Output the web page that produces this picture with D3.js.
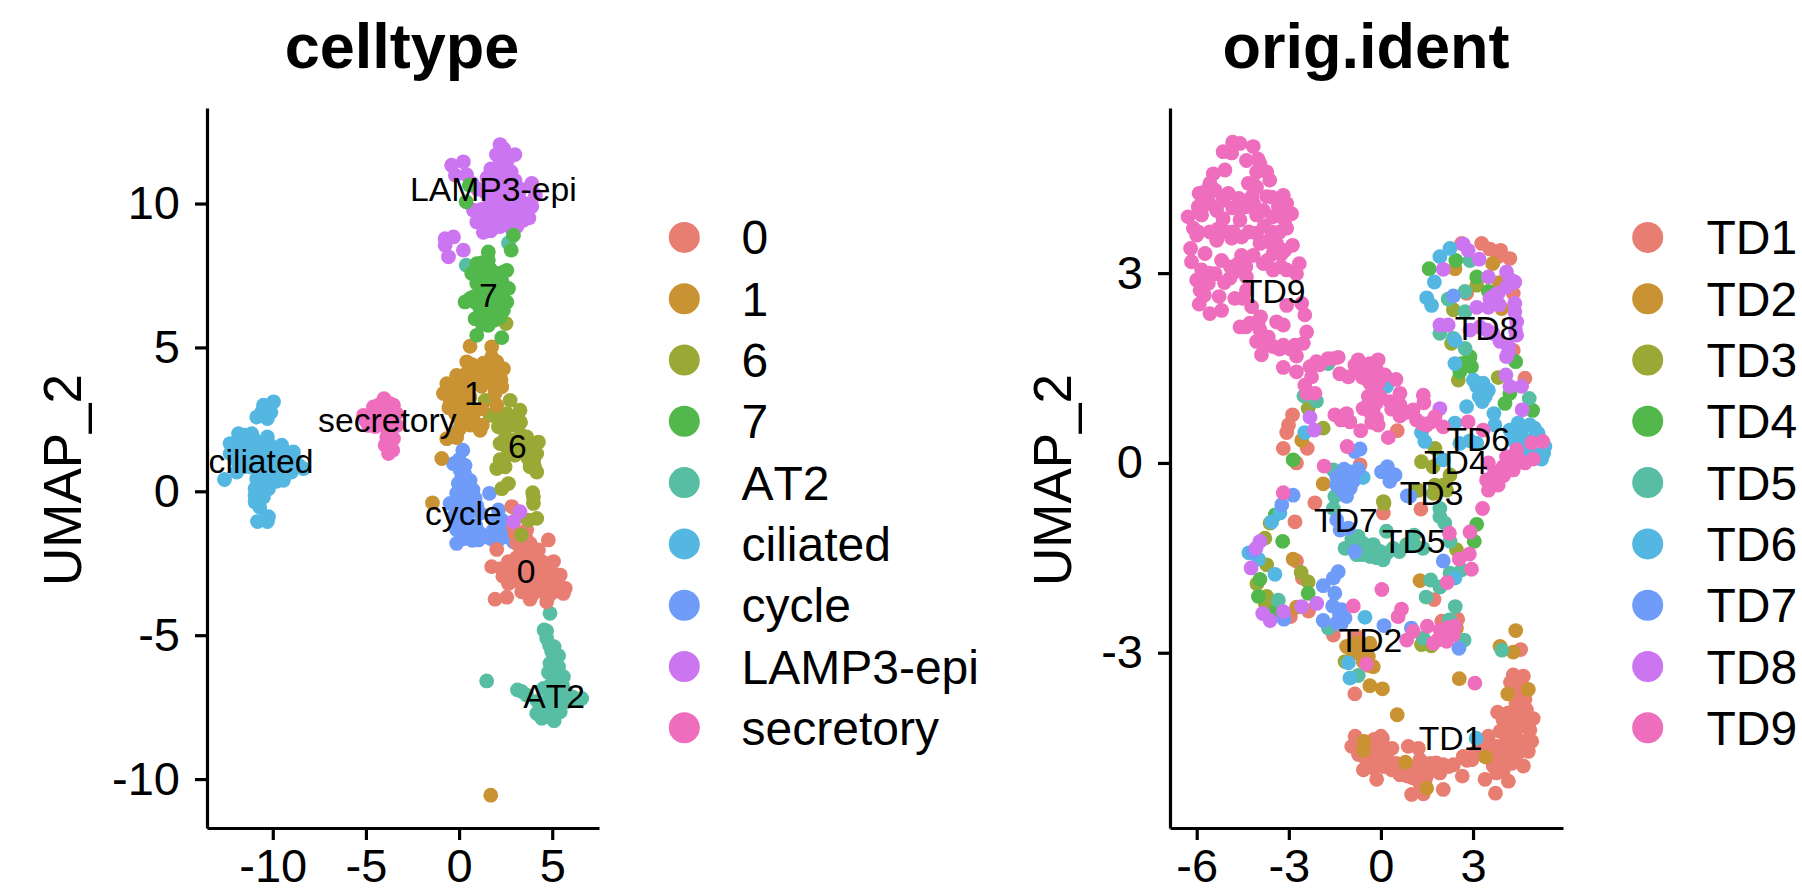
<!DOCTYPE html>
<html><head><meta charset="utf-8">
<script src="https://cdn.jsdelivr.net/npm/d3@7"></script>
<style>html,body{margin:0;padding:0;background:#fff}svg{display:block}text{font-family:"Liberation Sans",Arial,sans-serif;fill:#000;font-kerning:none}</style>
</head><body><svg id="c" width="1802" height="892"></svg>
<script>
// ---------- celltype panel ----------
const cellCategories = ["0","1","6","7","AT2","ciliated","cycle","LAMP3-epi","secretory"];
const palette = ["#E87D72","#C99333","#9AA936","#53B84B","#57BEA4","#54B7E2","#6E9CF8","#CC75F1","#EF6DBD"];
const cellDrawOrder = ["AT2","ciliated","secretory","cycle","0","6","1","LAMP3-epi","7"];
const cell0 = [[2.83,-0.53],[2.92,-1.23],[3.63,-1.34],[4.79,-1.69],[2.02,-2.02],[3.09,-1.81],[3.81,-1.81],[3.45,-2.1],[4.26,-2.04],[2.65,-2.44],[3.54,-2.44],[4.44,-2.44],[5.07,-2.44],[1.75,-2.62],[2.29,-2.68],[2.92,-2.74],[3.99,-2.85],[4.7,-2.85],[5.43,-2.91],[2.65,-3.2],[3.45,-3.14],[4.17,-3.2],[5.07,-3.2],[5.7,-3.37],[3.36,-3.49],[3.99,-3.55],[4.7,-3.49],[5.6,-3.55],[1.93,-3.75],[2.56,-3.68],[3.81,-3.75],[4.7,-3.84],[3.4,-1.55],[3.6,-1.65],[3.0,-1.5],[3.3,-1.9],[3.8,-2.2],[3.1,-2.3],[4.1,-2.4],[4.7,-2.55],[3.25,-2.55],[2.6,-2.8],[3.5,-2.85],[4.35,-2.75],[5.0,-2.85],[3.0,-3.1],[3.75,-3.15],[4.5,-3.15],[5.3,-3.2],[3.7,-3.45],[4.35,-3.45],[5.05,-3.5],[3.3,-2.9],[2.35,-2.95],[4.85,-3.6]];
const cell1 = [[0.59,5.04],[1.75,5.02],[0.41,4.5],[1.75,4.67],[2.02,4.5],[2.38,4.26],[-0.13,4.03],[0.77,4.2],[1.4,4.32],[2.2,3.97],[-0.66,3.74],[0.05,3.74],[0.77,3.74],[1.57,3.92],[2.29,3.63],[-0.84,3.4],[-0.13,3.4],[0.59,3.28],[1.93,3.4],[-0.48,3.05],[0.23,2.93],[1.22,2.87],[2.02,2.99],[0.05,2.47],[0.77,2.47],[-0.04,2.12],[-0.66,1.83],[-0.13,1.87],[1.13,2.12],[-0.93,1.14],[-1.43,-0.4],[1.7,-10.56],[0.4,4.1],[1.1,4.1],[1.75,4.2],[2.1,4.2],[1.9,3.9],[-0.4,3.6],[0.4,3.6],[1.9,3.65],[1.2,3.65],[-0.45,3.4],[0.2,3.2],[-0.1,3.0],[-0.55,2.9],[0.4,2.7],[0.6,2.3],[2.25,3.85],[1.3,4.45],[0.7,4.4],[-0.2,2.7],[0.05,2.2],[-0.35,1.9],[1.25,2.3],[0.9,2.8]];
const cell6 = [[2.52,5.83],[2.74,3.16],[1.4,3.16],[3.27,2.82],[2.56,2.7],[1.66,2.64],[2.11,2.24],[3.0,2.29],[2.2,1.66],[2.92,1.77],[3.63,1.89],[4.26,1.71],[3.63,1.43],[4.17,1.31],[2.74,1.31],[2.02,0.79],[2.47,0.85],[3.81,0.85],[4.17,0.67],[2.29,0.09],[2.65,0.27],[3.99,-0.2],[3.99,-0.42],[4.17,-0.94],[3.72,-1.0],[3.18,-0.88],[3.34,-1.52],[2.3,2.6],[2.9,2.5],[3.3,2.4],[2.5,2.3],[2.5,1.9],[3.3,1.5],[2.6,1.5],[3.0,1.25],[3.5,1.65],[3.9,1.5],[4.0,1.05],[3.7,1.15],[2.4,1.1],[2.2,1.1],[4.05,0.85],[3.95,-0.05],[2.1,2.5],[3.35,1.95]];
const cell7 = [[0.38,10.06],[0.55,10.64],[2.92,8.9],[2.8,8.38],[1.57,8.32],[1.57,8.03],[0.95,7.91],[0.68,7.57],[1.2,7.68],[2.56,7.68],[2.0,7.57],[0.95,7.22],[1.66,7.28],[2.65,7.05],[0.77,6.76],[1.48,6.76],[2.2,6.76],[0.32,6.58],[2.56,6.58],[1.13,6.35],[1.84,6.41],[2.38,6.29],[0.86,6.0],[1.57,6.06],[2.2,6.06],[1.57,5.77],[0.95,5.42],[2.29,5.34],[1.25,7.95],[1.9,7.3],[1.3,7.3],[2.3,7.3],[1.15,7.0],[1.8,7.0],[2.4,6.95],[0.9,6.55],[1.5,6.4],[2.1,6.5],[1.3,6.05],[1.9,5.95],[1.1,6.75],[1.85,6.7],[0.6,6.7],[1.4,7.6],[1.7,7.7],[2.3,7.6],[1.25,5.8]];
const cellAT2 = [[2.65,8.63],[0.38,7.86],[4.88,-4.24],[4.56,-4.82],[4.7,-5.11],[4.97,-5.57],[5.34,-5.71],[4.88,-5.98],[5.34,-6.1],[5.07,-6.44],[5.6,-6.44],[1.48,-6.59],[3.13,-6.9],[3.63,-7.08],[4.53,-6.85],[5.25,-6.9],[5.78,-7.02],[6.58,-7.2],[4.35,-7.37],[5.07,-7.31],[5.78,-7.31],[4.17,-7.72],[4.7,-7.72],[5.43,-7.66],[5.1,-7.97],[4.44,-7.89],[4.7,-4.85],[4.85,-5.35],[5.1,-5.4],[5.05,-5.8],[5.1,-6.1],[4.8,-6.3],[5.35,-6.35],[5.3,-6.6],[4.9,-6.75],[5.55,-6.75],[3.35,-6.95],[4.9,-7.1],[5.5,-7.1],[6.1,-7.15],[6.3,-7.25],[4.7,-7.35],[5.4,-7.4],[4.5,-7.6],[5.05,-7.65],[5.2,-7.75],[5.9,-7.2],[4.2,-7.3]];
const cellCiliated = [[-9.96,3.11],[-10.5,2.99],[-10.3,2.87],[-10.86,2.58],[-10.29,2.53],[-11.84,2.0],[-11.13,2.0],[-10.29,1.89],[-12.29,1.66],[-11.57,1.66],[-10.86,1.66],[-10.14,1.6],[-9.52,1.6],[-8.89,1.37],[-12.29,1.31],[-11.57,1.25],[-10.86,1.25],[-9.96,1.19],[-9.25,1.14],[-8.35,0.79],[-11.93,0.67],[-11.2,0.85],[-10.5,0.85],[-9.79,0.79],[-9,0.67],[-12.59,0.41],[-10.86,0.44],[-10.14,0.5],[-9.43,0.38],[-10.95,0.09],[-10.23,0.09],[-10.95,-0.37],[-10.6,-0.15],[-10.82,-1.05],[-10.29,-1.05],[-10.23,-0.88],[-11.5,1.95],[-11.0,1.8],[-11.9,1.45],[-11.2,1.45],[-10.5,1.45],[-9.8,1.4],[-9.3,1.35],[-11.9,1.05],[-11.2,1.05],[-10.5,1.05],[-9.6,0.95],[-8.9,0.95],[-11.55,0.85],[-10.85,0.85],[-10.15,0.75],[-9.45,0.75],[-10.5,0.45],[-9.8,0.35],[-10.6,0.1],[-10.5,-0.2],[-10.95,-0.15],[-10.7,-0.55],[-10.4,-0.95],[-10.1,2.75],[-10.6,2.75],[-8.6,0.9]];
const cellCycle = [[0.2,1.43],[-0.3,0.96],[0.32,0.9],[0.14,0.5],[-0.04,0.27],[0.59,0.38],[-0.13,-0.07],[0.5,0.22],[-0.48,-0.42],[0.23,-0.3],[0.86,-0.24],[-0.3,-0.88],[0.41,-0.88],[1.13,-0.76],[-0.13,-1.34],[0.59,-1.46],[1.13,-1.46],[-0.13,-1.81],[1.04,-1.69],[1.84,-1.34],[2.29,-1.0],[2.11,-0.65],[2.47,-1.58],[2.92,-1.75],[1.63,-0.07],[0.0,1.1],[0.05,0.75],[0.3,0.6],[0.35,0.15],[0.0,0.05],[0.75,0.05],[-0.1,-0.4],[0.55,-0.6],[0.95,-0.5],[0.0,-0.7],[0.05,-1.1],[0.4,-1.25],[0.9,-1.2],[0.25,-1.65],[0.3,-1.3],[1.9,-1.0],[2.3,-1.3],[1.7,-1.65],[2.1,-1.7],[0.7,-1.7],[0.65,-0.25]];
const cellLamp = [[2.2,12.05],[2.4,11.9],[2.0,11.7],[2.6,11.5],[3.0,11.7],[2.2,11.4],[1.7,11.2],[2.3,11.0],[2.8,11.1],[1.5,10.9],[1.9,10.7],[2.5,10.6],[3.0,10.8],[1.4,10.4],[2.0,10.3],[2.6,10.2],[3.2,10.2],[3.9,10.7],[4.1,10.3],[3.7,10.0],[1.2,9.8],[1.8,9.8],[2.4,9.7],[3.0,9.7],[3.6,9.6],[0.77,9.77],[1.3,9.3],[1.9,9.2],[2.5,9.3],[3.1,9.2],[3.45,9.42],[0.95,9.36],[1.3,9.0],[1.7,9.05],[-0.4,11.33],[0.23,11.45],[-0.2,10.98],[0.4,11.0],[0.7,10.7],[1.0,10.5],[-0.75,8.78],[-0.3,8.84],[-0.75,8.55],[-0.57,8.15],[0.23,8.38],[3.27,-0.71],[2.92,-1.05],[2.4,11.7],[2.1,11.15],[1.8,11.0],[2.55,11.2],[1.7,10.5],[2.2,10.55],[2.8,10.5],[3.3,10.5],[1.65,10.1],[2.3,10.0],[2.9,10.0],[3.4,9.9],[1.5,9.6],[2.1,9.5],[2.7,9.5],[3.3,9.5],[1.0,9.6],[1.6,9.4],[2.2,9.2],[2.8,9.15],[3.9,9.9],[1.55,9.15],[3.75,9.5]];
const cellSecretory = [[-4.03,3.22],[-4.6,2.93],[-3.52,2.99],[-5.13,2.64],[-4.42,2.58],[-3.52,2.58],[-4.87,2.29],[-4.06,2.29],[-3.35,2.29],[-3.88,1.89],[-3.52,1.83],[-3.97,1.6],[-3.56,1.43],[-3.79,1.31],[-4.3,3.0],[-4.0,2.9],[-3.7,3.05],[-4.8,2.6],[-4.1,2.6],[-3.8,2.6],[-4.5,2.25],[-3.7,2.2],[-3.7,1.6],[-3.75,2.0],[-5.0,2.45],[-3.35,2.7]];
const cellSeries = {"0":cell0,"1":cell1,"6":cell6,"7":cell7,"AT2":cellAT2,"ciliated":cellCiliated,"cycle":cellCycle,"LAMP3-epi":cellLamp,"secretory":cellSecretory};
const cellLabels = [["7",1.57,6.81],["1",0.77,3.40],["6",3.13,1.59],["LAMP3-epi",1.84,10.52],["secretory",-3.85,2.47],["ciliated",-10.63,1.05],["cycle",0.23,-0.76],["0",3.6,-2.76],["AT2",5.1,-7.1]];
const cellXTicks = [-10,-5,0,5];
const cellYTicks = [-10,-5,0,5,10];

// ---------- orig.ident panel ----------
const identCategories = ["TD1","TD2","TD3","TD4","TD5","TD6","TD7","TD8","TD9"];
const td1 = [[3.28,3.47],[3.55,3.38],[3.9,3.36],[4.2,3.23],[3.82,3.26],[2.63,3.47],[4.31,2.68],[4.69,1.34],[4.31,1.78],[0.53,0.51],[-2.88,0.76],[-3.01,0.6],[-3.07,0.48],[-3.18,0.23],[-2.4,0.23],[-2.75,0],[-0.68,-0.03],[2.79,2.68],[-2.15,-0.63],[-2.8,-0.93],[0.08,-0.79],[1.3,-0.73],[-2.75,-1.55],[-2.56,-1.82],[1.73,-2.16],[-2.36,-2.34],[-2.95,-2.43],[-1.55,-2.72],[-0.79,-2.74],[1.98,-2.5],[2.5,-2.47],[4.55,-2.95],[-0.85,-3.65],[4.64,-3.37],[4.31,-3.35],[4.22,-3.47],[4.58,-3.53],[4.69,-3.74],[4.47,-3.69],[4.74,-3.9],[4.47,-3.9],[3.8,-3.94],[4.15,-3.95],[4.96,-4.04],[3.98,-4.06],[4.36,-4.08],[4.85,-4.22],[4.58,-4.16],[4.2,-4.24],[3.88,-4.24],[3.5,-4.32],[4.91,-4.4],[4.47,-4.37],[4.09,-4.37],[4.8,-4.56],[4.47,-4.58],[4.15,-4.53],[3.77,-4.48],[3.82,-4.64],[3.45,-4.53],[3.07,-4.58],[4.09,-4.74],[4.64,-4.79],[3.66,-4.79],[3.98,-4.87],[3.77,-4.9],[3.39,-5.0],[4.15,-5.03],[3.73,-5.22],[2.65,-4.95],[2.68,-4.64],[2.36,-4.77],[2.96,-4.69],[2.03,-4.77],[1.8,-4.74],[1.92,-4.9],[1.54,-4.9],[1.27,-4.69],[0.89,-4.48],[1.22,-4.51],[1.27,-4.85],[1.05,-4.98],[0.62,-4.93],[1.27,-5.06],[0.36,-4.51],[0,-4.32],[-0.22,-4.37],[-0.84,-4.32],[-0.95,-4.48],[-0.73,-4.61],[-0.46,-4.72],[-0.14,-4.58],[0.19,-4.66],[-0.25,-4.82],[0.35,-4.85],[-0.14,-5.0],[-0.57,-4.85],[0.02,-4.48],[1,-5.24],[1.38,-5.23],[2.03,-5.16],[4.3,-3.55],[4.65,-4.0],[4.7,-4.4],[4.3,-4.2],[4.4,-3.8],[4.25,-4.75],[3.6,-4.6],[3.3,-4.6],[3.95,-4.55],[4.3,-4.65],[3.2,-4.45],[2.8,-4.7],[2.2,-4.8],[1.6,-4.75],[1.45,-5.0],[1.1,-4.8],[0.85,-4.95],[-0.35,-4.55],[-0.5,-4.45],[-0.05,-4.75],[0.1,-4.8],[-0.6,-4.6],[0.5,-4.75],[-0.2,-4.55],[0.05,-4.35]];
const td2 = [[3.64,3.15],[2.41,3.07],[3.85,2.85],[3.93,2.44],[-2.58,0.36],[-1.88,-0.33],[-2.86,-1.52],[1.27,-1.86],[-2.75,-2.28],[-1.12,-2.9],[-0.79,-2.85],[-0.36,-2.85],[-0.79,-3.0],[-0.41,-3.06],[-0.25,-3.22],[-0.58,-3.14],[-0.36,-3.52],[0.05,-3.57],[0.53,-3.98],[2.55,-3.41],[4.39,-2.65],[3.88,-2.9],[4.31,-2.99],[4.13,-3.65],[4.8,-3.58],[-0.55,-4.4],[-0.57,-4.54],[0.8,-4.73],[1.49,-5.14],[3.41,-4.65],[2.46,-2.61],[-0.55,-2.95],[-0.95,-2.95],[-0.4,-3.2]];
const td3 = [[2.36,2.42],[3.12,2.81],[2.3,1.89],[2.52,1.31],[3.82,1.35],[-2.37,0.86],[-1.88,0.55],[1.32,0.02],[1.76,0.23],[1.7,-0.06],[2.25,-0.19],[1.76,-0.35],[2.14,-0.43],[1.16,-0.43],[0.08,-0.61],[1.22,-0.43],[1.71,-0.48],[2.03,-0.35],[0.1,-0.64],[-3.78,-1.19],[-3.61,-0.95],[-2.6,-1.73],[-2.37,-1.88],[-3.72,-1.61],[-4.04,-1.91],[-3.72,-2.11],[-3.77,-2.22],[2.46,-1.37],[1.32,-2.87],[1.64,-2.89],[-1.17,-3.14]];
const td4 = [[2.44,3.2],[1.57,3.07],[3.12,2.94],[3.5,2.71],[2.9,1.68],[4.39,1.6],[2.63,1.57],[2.95,1.52],[2.57,1.44],[4.2,1.1],[4.04,0.94],[4.94,0.83],[-2.86,0.05],[-3.2,-1.24],[3.12,-0.97],[3.04,-1.24],[-3.44,-0.82],[-3.94,-1.84],[-3.99,-2.11],[-2.37,-2.06],[-3.44,-2.35]];
const td5 = [[2.9,3.2],[2.74,2.71],[2.19,2.59],[2.74,2.39],[1.92,2.05],[2.36,1.97],[2.74,1.81],[4.83,1.02],[-2.51,1.06],[-2.1,0.98],[-1.72,1.57],[-1.55,-0.11],[-1.55,-0.72],[1.92,-0.72],[1.92,-0.85],[2.08,-0.95],[2.25,-1.24],[0.18,-1.08],[1.08,-1.14],[-0.74,-1.16],[-1.17,-1.35],[-0.58,-1.27],[-0.25,-1.29],[-0.03,-1.4],[-0.79,-1.45],[-0.36,-1.48],[0.07,-1.53],[0.4,-1.35],[0.84,-1.29],[1.37,-1.35],[-0.47,-1.37],[2.25,-1.74],[2.63,-1.69],[1.62,-1.85],[1.92,-1.96],[1.47,-2.12],[-3.34,-2.17],[2.42,-2.27],[2.23,-2.48],[1.38,-2.77],[2.71,-2.8],[-1.71,-2.61],[-0.74,-3.36],[3.94,-2.96],[-1.5,-0.53],[-0.9,-1.3],[-0.15,-1.5],[0.2,-1.42],[-0.6,-1.45],[0.6,-1.4],[1.1,-1.3],[-0.95,-1.2]];
const td6 = [[2.25,3.39],[1.92,3.26],[1.74,2.86],[1.49,2.61],[1.65,2.49],[2.41,1.94],[2.41,1.57],[3.01,1.31],[3.33,1.26],[3.5,1.15],[3.12,1.21],[3.3,0.97],[2.79,0.89],[3.68,0.78],[3.71,0.6],[2.41,0.63],[1.32,0.48],[1.43,0.34],[2.57,0.31],[3.12,0.31],[4.47,0.63],[4.85,0.6],[4.2,0.52],[5.12,0.47],[4.31,0.36],[4.74,0.36],[5.34,0.26],[5.23,0.06],[2.03,0.05],[-2.48,0.48],[-0.58,-0.23],[0.18,1.21],[-3.56,-0.93],[-3.29,-0.79],[-3.45,-1.76],[-4.3,-1.42],[-3.99,-1.52],[-0.52,-2.44],[-1.06,-3.16],[-1.01,-3.4],[2.41,-1.82],[3.1,-4.35],[4.5,0.2],[4.95,0.15],[5.0,0.4],[4.4,0.45],[4.8,0.15],[5.3,0.15],[3.2,1.05],[3.4,1.05],[2.9,0.35],[4.6,0.55],[5.0,0.55]];
const td7 = [[2.36,2.64],[-0.68,0.22],[-0.85,0.18],[-1.44,-0.22],[-1.01,-0.14],[-0.74,-0.1],[-1.17,-0.27],[-0.9,-0.29],[-1.44,-0.35],[0.21,-0.06],[0.02,-0.14],[0.46,-0.19],[0.29,-0.29],[0.94,-0.53],[-2.86,-0.51],[-1.12,-0.53],[-1.28,-0.35],[-3.23,-0.66],[-1.44,-0.9],[-1.33,-1.06],[-1.06,-1.03],[-0.85,-1.4],[2.03,-1.55],[-1.39,-1.72],[-1.55,-1.82],[-1.88,-1.94],[-1.5,-2.06],[-1.57,-2.26],[-1.28,-2.32],[-1.17,-2.45],[-1.88,-2.49],[-1.44,-2.53],[0.1,-2.57],[0.99,-2.61],[2.54,-2.93],[-3.16,-2.47],[-4.16,-1.4],[0.86,-0.52],[-1.2,-0.1],[-1.25,-0.45],[-1.0,-0.4],[-1.35,-2.4],[-1.3,-2.55]];
const td8 = [[2.68,3.46],[2.84,3.36],[3.2,3.22],[2.03,3.06],[3.5,2.94],[4.09,3.02],[4.36,2.86],[4.09,2.78],[3.82,2.68],[3.55,2.6],[4.36,2.52],[3.5,2.46],[3.12,2.46],[4.36,2.39],[1.92,2.18],[2.19,2.18],[4.42,2.23],[2.9,2.1],[3.22,2.15],[4.42,2.02],[3.88,1.92],[4.15,1.84],[4.09,1.68],[4.07,1.39],[4.2,1.21],[4.58,1.21],[1.92,0.86],[4.6,0.84],[-2.31,0.72],[-2.17,0.52],[-4.07,-1.35],[-3.94,-1.24],[-4.23,-1.66],[-2.58,-2.27],[-2.09,-2.22],[-3.18,-2.35],[-3.85,-2.38],[-3.61,-2.49],[3.7,2.65],[4.2,2.9],[3.85,2.5],[4.38,2.1],[4.15,1.75],[3.65,2.05],[3.45,2.1]];
const td9 = [[-4.83,5.07],[-4.59,5.05],[-5.14,4.92],[-4.86,4.9],[-4.16,5.0],[-4.38,4.78],[-3.94,4.73],[-4.05,4.6],[-3.72,4.6],[-5.46,4.57],[-5.08,4.63],[-3.62,4.47],[-5.57,4.42],[-4.32,4.42],[-4.05,4.36],[-5.92,4.26],[-5.4,4.31],[-4.97,4.26],[-3.18,4.23],[-5.66,4.15],[-4.63,4.18],[-4.2,4.21],[-3.72,4.21],[-3.07,4.1],[-5.95,4.05],[-5.35,3.99],[-4.83,4.03],[-4.38,4.05],[-3.83,3.99],[-3.34,4.05],[-2.91,3.94],[-6.28,3.89],[-5.84,3.92],[-5.14,3.86],[-4.59,3.84],[-4.05,3.92],[-3.51,3.89],[-3.13,3.84],[-6.11,3.71],[-5.57,3.65],[-5.03,3.65],[-4.54,3.57],[-4.05,3.63],[-3.56,3.65],[-3.07,3.71],[-6.0,3.6],[-5.35,3.52],[-4.86,3.55],[-3.94,3.47],[-3.4,3.47],[-2.88,3.44],[-6.2,3.39],[-5.73,3.31],[-3.51,3.31],[-3.13,3.36],[-6.17,3.18],[-5.19,3.2],[-4.54,3.28],[-4.16,3.28],[-4.65,3.15],[-3.83,3.15],[-3.51,3.05],[-3.07,3.05],[-2.66,3.15],[-5.84,3.05],[-5.4,2.99],[-4.76,3.02],[-6.0,2.89],[-5.62,2.84],[-4.92,2.92],[-4.38,2.94],[-2.75,2.99],[-5.89,2.73],[-5.27,2.63],[-4.76,2.6],[-4.38,2.73],[-5.92,2.51],[-3.07,2.49],[-2.58,2.52],[-5.57,2.36],[-5.19,2.41],[-4.21,2.47],[-2.48,2.34],[-3.92,2.31],[-4.59,2.15],[-4.27,2.21],[-3.4,2.23],[-3.18,2.18],[-3.94,2.1],[-2.42,2.07],[-4.05,1.92],[-3.67,1.99],[-3.18,1.86],[-2.53,1.89],[-2.8,1.86],[-3.89,1.71],[-3.51,1.84],[-2.75,1.69],[-3.18,1.51],[-2.75,1.44],[-2.31,1.52],[-2.1,1.6],[-1.72,1.65],[-1.39,1.67],[-2.26,1.36],[-2.48,1.23],[-2.42,1.1],[-0.74,1.63],[-0.09,1.63],[-0.36,1.57],[-1.34,1.41],[-1.06,1.36],[-0.79,1.47],[-0.47,1.42],[-0.14,1.47],[0.13,1.39],[-0.36,1.26],[-0.09,1.26],[0.49,1.32],[0.62,1.1],[1.38,1.07],[-0.41,1.05],[-0.03,1.05],[0.29,0.97],[-0.58,0.86],[-0.25,0.86],[0.62,0.92],[-1.5,0.76],[-1.12,0.78],[-0.14,0.71],[0.62,0.74],[1.05,0.84],[-1.01,0.65],[-0.3,0.64],[-0.09,0.6],[1.16,0.68],[1.49,0.6],[1.76,0.73],[2.03,0.57],[-0.66,0.51],[0.24,0.4],[2.84,0.65],[3.33,0.52],[-1.1,0.26],[4.91,0.32],[5.27,0.34],[4.42,0.21],[4.09,0.1],[4.96,0.06],[4.69,0],[3.5,0],[3.98,-0.06],[4.31,-0.11],[3.88,-0.22],[3.44,-0.27],[3.82,-0.35],[3.5,-0.43],[-1.85,-0.05],[-3.18,-0.47],[3.31,-0.72],[2.23,-1.11],[2.9,-1.09],[2.55,-1.52],[2.88,-1.44],[2.95,-1.68],[2.16,-1.89],[0.03,-2.0],[-0.9,-2.26],[0.67,-2.31],[0.56,-2.43],[1.51,-2.58],[1.05,-2.66],[0.84,-2.8],[1.93,-2.64],[2.41,-2.58],[2.36,-2.72],[2.14,-2.82],[1.71,-2.85],[-0.47,-3.18],[3.06,-3.48],[-5.6,4.1],[-5.15,4.15],[-4.6,4.0],[-4.15,4.1],[-3.55,4.2],[-3.25,3.9],[-5.95,3.65],[-5.3,3.7],[-4.8,3.65],[-4.3,3.65],[-3.8,3.75],[-3.3,3.65],[-3.7,3.5],[-3.25,3.3],[-3.7,3.2],[-3.25,3.1],[-4.4,3.1],[-4.9,3.1],[-5.6,3.0],[-5.1,2.85],[-5.75,2.65],[-4.5,2.6],[-4.0,2.2],[-3.8,1.9],[-3.3,1.8],[-2.95,1.8],[-4.4,2.15],[-4.0,4.8],[-4.15,4.4],[-5.5,4.3],[-5.7,4.3],[-0.55,1.5],[-0.3,1.4],[-0.6,1.35],[-0.2,1.15],[-0.45,0.9],[-0.15,0.95],[-0.3,0.75],[-1.3,0.68],[0.35,0.85],[0.85,0.8],[1.35,0.62],[1.65,0.65],[-2.15,1.1],[-2.0,1.55],[-1.55,1.65],[4.2,-0.1],[4.0,-0.2],[3.7,-0.15],[4.5,0.05],[3.6,-0.3],[1.4,0.95],[-0.85,1.55],[2.0,-2.75],[2.2,-2.6],[1.85,-2.8]];
const identSeries = {TD1:td1,TD2:td2,TD3:td3,TD4:td4,TD5:td5,TD6:td6,TD7:td7,TD8:td8,TD9:td9};
const identLabels = [["TD9",-3.49,2.71],["TD8",3.44,2.14],["TD6",3.17,0.37],["TD4",2.44,0.02],["TD3",1.65,-0.48],["TD7",-1.14,-0.9],["TD5",1.07,-1.24],["TD2",-0.34,-2.8],["TD1",2.27,-4.35]];
const identXTicks = [-6,-3,0,3];
const identYTicks = [-3,0,3];

const svg = d3.select("#c");
const ANN = 33.7, TICK = 47, LEG = 48, TITLE = 63, AXT = 53;

function panel(o){
  const g = svg.append("g");
  const x = d3.scaleLinear().domain(o.xd).range([o.l,o.r]);
  const y = d3.scaleLinear().domain(o.yd).range([828,108]);
  const color = d3.scaleOrdinal(o.cats,palette);
  o.order.forEach(k=>{
    g.append("g").selectAll("circle").data(o.series[k]).join("circle")
      .attr("cx",d=>x(d[0])).attr("cy",d=>y(d[1])).attr("r",7.4).attr("fill",color(k));
  });
  g.append("g").selectAll("text").data(o.labels).join("text")
    .attr("x",d=>x(d[1])).attr("y",d=>y(d[2])).attr("dy","0.355em")
    .attr("text-anchor","middle").attr("font-size",ANN).text(d=>d[0]);
  const ax = g.append("g").attr("transform","translate(0,828)")
    .call(d3.axisBottom(x).tickValues(o.xt).tickFormat(d3.format("d")).tickSize(12).tickSizeOuter(0).tickPadding(9));
  const ay = g.append("g").attr("transform",`translate(${o.l},0)`)
    .call(d3.axisLeft(y).tickValues(o.yt).tickFormat(d3.format("d")).tickSize(12).tickSizeOuter(0).tickPadding(15));
  [ax,ay].forEach(a=>{
    a.select(".domain").attr("stroke","#000").attr("stroke-width",3.2);
    a.selectAll(".tick line").attr("stroke","#000").attr("stroke-width",3.2);
    a.selectAll("text").attr("font-size",TICK).attr("font-family","Liberation Sans").attr("fill","#000")
      .text(function(){return this.textContent.replace("\u2212","-");});
    a.attr("font-family",null);
  });
  svg.append("text").attr("x",o.tx).attr("y",68).attr("text-anchor","middle")
    .attr("font-size",TITLE).attr("font-weight","bold").text(o.title);
  svg.append("text").attr("transform",`translate(${o.axx},${o.axy}) rotate(-90)`)
    .attr("text-anchor","middle").attr("font-size",AXT).text("UMAP_2");
  const leg = svg.append("g").selectAll("g").data(o.cats).join("g")
    .attr("transform",(d,i)=>`translate(0,${237.4+i*61.3})`);
  leg.append("circle").attr("cx",o.lc).attr("r",15.5).attr("fill",d=>color(d));
  leg.append("text").attr("x",o.lt).attr("y",17).attr("font-size",LEG).text(d=>d);
}
panel({cats:cellCategories,series:cellSeries,order:cellDrawOrder,labels:cellLabels,
  xd:[-13.53,7.51],yd:[-11.7,13.32],l:207,r:599,xt:cellXTicks,yt:cellYTicks,
  title:"celltype",tx:402,axx:81,axy:480,lc:684.3,lt:741.5});
panel({cats:identCategories,series:identSeries,order:identCategories,labels:identLabels,
  xd:[-6.87,5.93],yd:[-5.77,5.61],l:1170,r:1563,xt:identXTicks,yt:identYTicks,
  title:"orig.ident",tx:1366,axx:1071,axy:480,lc:1647.7,lt:1706.5});
</script></body></html>
